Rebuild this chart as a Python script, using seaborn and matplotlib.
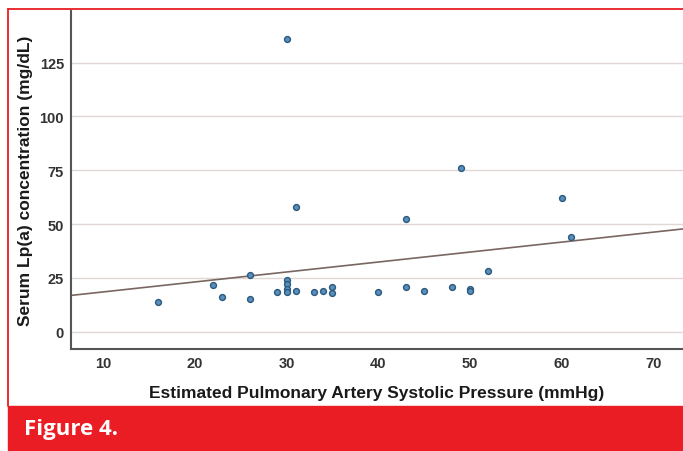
import matplotlib
matplotlib.use("Agg")
import matplotlib.pyplot as plt
import seaborn as sns
import pandas as pd
from matplotlib.patches import Rectangle
from matplotlib.lines import Line2D

# Estimated PASP (mmHg) and serum Lp(a) (mg/dL) per patient
paps = [16, 22, 23, 26, 26, 29, 30, 30, 30, 30, 31, 31, 33, 34, 35, 35,
        40, 43, 43, 45, 48, 49, 50, 50, 52, 60, 61, 30]
lpa = [14, 21.5, 16, 26.5, 15, 18.5, 24, 22, 20, 18.5, 19, 58, 18.5, 19, 21, 18,
       18.5, 21, 52.5, 19, 21, 76, 20, 19, 28, 62, 44, 136]

x_ticks = [10, 20, 30, 40, 50, 60, 70]
y_ticks = [0, 25, 50, 75, 100, 125]

df = pd.DataFrame({"paps": paps, "lpa": lpa})

sns.set_theme(style="white")
plt.rcParams["font.family"] = ["Liberation Sans", "DejaVu Sans"]

RED = "#ea1c24"

fig = plt.figure(figsize=(6.83, 4.52), dpi=100)
fig.patch.set_facecolor("white")
ax = fig.add_axes([71 / 683, 102 / 452, 612 / 683, 338 / 452])

ax.set_xlim(6.5, 73.2)
ax.set_ylim(-8, 149)

for yv in y_ticks:
    ax.axhline(yv, color="#dfd8d6", lw=1.0, zorder=0)

sns.regplot(data=df, x="paps", y="lpa", ax=ax, ci=None, truncate=False,
            scatter_kws=dict(s=18, facecolor="#5a8ebf", edgecolor="#2c5a7c",
                             linewidths=1.0, alpha=1, zorder=3),
            line_kws=dict(color="#7a6660", lw=1.2, zorder=2))

ax.set_xticks(x_ticks)
ax.set_yticks(y_ticks)
ax.tick_params(axis="both", length=0, pad=5, labelsize=10.5, colors="#222222")
for lbl in ax.get_xticklabels() + ax.get_yticklabels():
    lbl.set_fontweight("bold")
    lbl.set_color("#333333")

ax.set_xlabel("Estimated Pulmonary Artery Systolic Pressure (mmHg)",
              fontsize=12.5, fontweight="bold", color="#1a1a1a", labelpad=11)
ax.set_ylabel("Serum Lp(a) concentration (mg/dL)",
              fontsize=12.5, fontweight="bold", color="#1a1a1a", labelpad=5)

for side in ["top", "right"]:
    ax.spines[side].set_visible(False)
for side in ["left", "bottom"]:
    ax.spines[side].set_color("#555555")
    ax.spines[side].set_linewidth(1.5)

# Figure frame: thin red rule along top and left, caption band at the bottom
fig.add_artist(Line2D([8 / 683, 1.0], [1 - 10 / 452, 1 - 10 / 452],
                      transform=fig.transFigure, color=RED, lw=1.3))
fig.add_artist(Line2D([8 / 683, 8 / 683], [45 / 452, 1 - 10 / 452],
                      transform=fig.transFigure, color=RED, lw=1.3))
fig.add_artist(Rectangle((8 / 683, 0), 1 - 8 / 683, 45 / 452,
                         transform=fig.transFigure, color=RED, zorder=5))
fig.text(24 / 683, 22 / 452, "Figure 4.", color="white", fontsize=16,
         fontweight="bold", family=["Open Sans", "DejaVu Sans"],
         va="center", ha="left", zorder=6)

fig.savefig("out.png", dpi=100)
